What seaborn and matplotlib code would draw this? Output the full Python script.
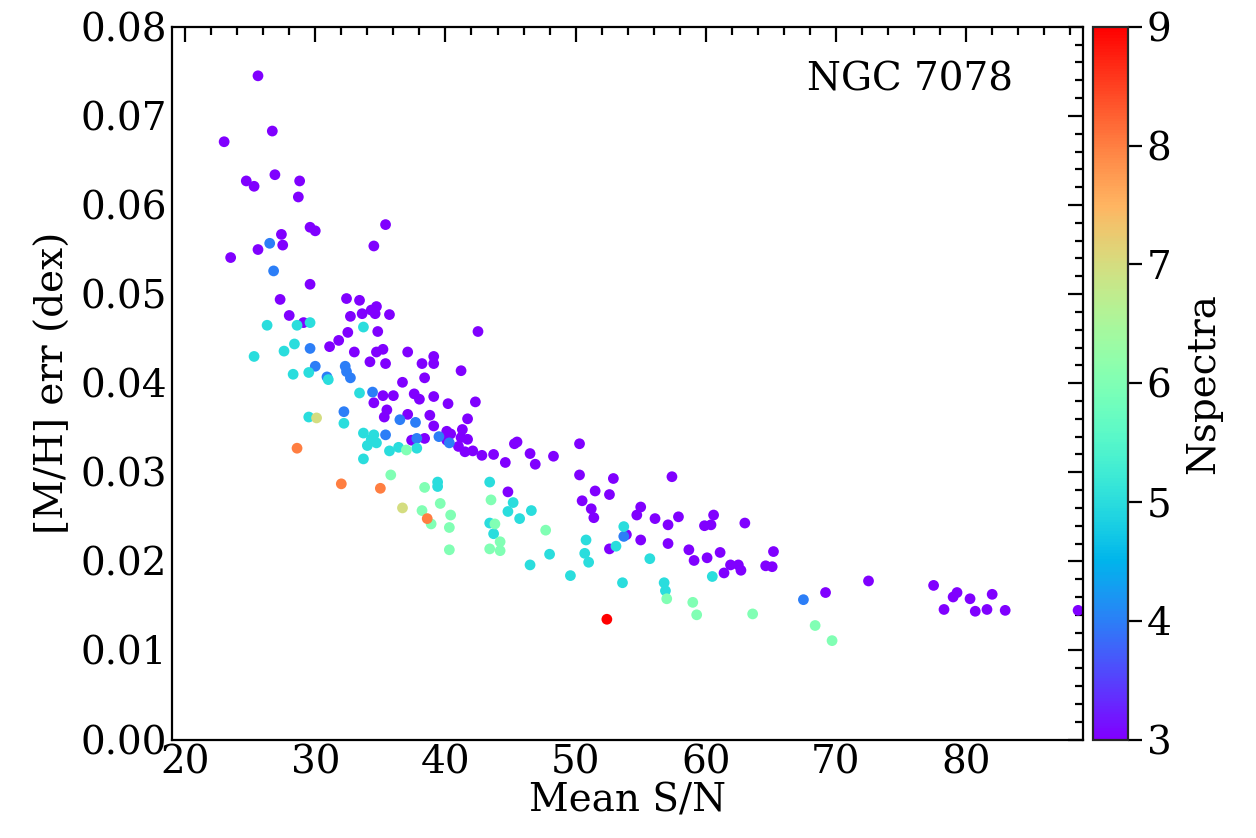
import numpy as np
import pandas as pd
import matplotlib
matplotlib.use("Agg")
import matplotlib.pyplot as plt
import seaborn as sns
from matplotlib.ticker import MultipleLocator

# ---- data: (Mean S/N, [M/H] err) grouped by number of spectra ----
sn_n3 = [23.0, 25.6, 23.5, 24.7, 25.3, 26.7, 26.9, 25.6, 28.8, 28.7, 27.4, 27.5, 29.6, 30.0,
         35.4, 34.5, 27.3, 29.6, 28.0, 29.1, 32.4, 33.4, 34.3, 34.7, 33.6, 34.6, 35.7, 32.7,
         34.8, 32.5, 31.8, 31.1, 33.0, 34.7, 35.2, 34.2, 35.4, 34.5,
         42.5, 37.1, 39.1, 38.2, 39.1, 41.2, 38.4, 36.7, 36.0, 35.2, 37.6, 38.0, 39.1, 40.2,
         42.3, 35.5, 35.3, 37.1, 38.8, 41.7, 39.1, 37.4, 38.4, 40.1, 40.4, 41.3, 40.1, 41.2,
         41.7, 41.0, 41.5, 42.1, 42.8, 43.7, 44.6, 45.3, 45.5, 46.5, 46.9, 48.3, 50.3, 50.3,
         44.8, 52.9, 57.4, 51.5, 52.6, 50.5, 51.2, 51.4, 55.0, 54.7, 56.1, 57.9, 57.1, 53.9,
         55.0, 57.1, 52.6, 60.6, 59.9, 60.4, 63.0, 58.7, 59.1, 60.1, 61.1, 61.9, 62.5, 62.7,
         61.4, 64.6, 65.1, 65.2, 69.2, 72.5, 77.5, 78.3, 79.0, 79.3, 80.3, 80.7, 81.6, 82.0,
         83.0, 88.6]
err_n3 = [0.0671, 0.0745, 0.0541, 0.0627, 0.0621, 0.0683, 0.0634, 0.0550, 0.0627, 0.0609,
          0.0567, 0.0555, 0.0575, 0.0571, 0.0578, 0.0554, 0.0494, 0.0511, 0.0476, 0.0468,
          0.0495, 0.0493, 0.0482, 0.0486, 0.0478, 0.0478, 0.0477, 0.0475, 0.0458, 0.0457,
          0.0448, 0.0441, 0.0435, 0.0435, 0.0438, 0.0424, 0.0422, 0.0378,
          0.0458, 0.0435, 0.0430, 0.0422, 0.0422, 0.0414, 0.0406, 0.0401, 0.0386, 0.0386,
          0.0388, 0.0382, 0.0385, 0.0377, 0.0379, 0.0370, 0.0362, 0.0365, 0.0364, 0.0360,
          0.0352, 0.0336, 0.0338, 0.0346, 0.0343, 0.0348, 0.0336, 0.0339, 0.0337, 0.0329,
          0.0323, 0.0324, 0.0319, 0.0320, 0.0311, 0.0332, 0.0334, 0.0321, 0.0309, 0.0318,
          0.0332, 0.0297, 0.0278, 0.0293, 0.0295, 0.0279, 0.0275, 0.0268, 0.0259, 0.0249,
          0.0261, 0.0252, 0.0248, 0.0250, 0.0241, 0.0230, 0.0224, 0.0220, 0.0214, 0.0252,
          0.0240, 0.0241, 0.0243, 0.0213, 0.0201, 0.0204, 0.0210, 0.0196, 0.0196, 0.0190,
          0.0187, 0.0195, 0.0194, 0.0211, 0.0165, 0.0178, 0.0173, 0.0146, 0.0160, 0.0165,
          0.0158, 0.0144, 0.0146, 0.0163, 0.0145, 0.0145]

sn_n4 = [26.5, 26.8, 29.6, 30.0, 30.9, 32.3, 32.4, 32.7, 34.4, 32.2, 36.5, 37.7, 35.4, 37.8,
         39.5, 40.3, 53.7, 67.5]
err_n4 = [0.0557, 0.0526, 0.0439, 0.0419, 0.0407, 0.0419, 0.0413, 0.0406, 0.0390, 0.0368,
          0.0359, 0.0356, 0.0342, 0.0338, 0.0340, 0.0333, 0.0228, 0.0157]

sn_n5 = [26.3, 28.6, 29.6, 28.4, 27.6, 25.3, 28.3, 29.5, 31.0, 33.4, 33.7, 29.5, 32.2, 33.7,
         34.5, 34.3, 34.0, 34.7, 35.7, 36.4, 37.8, 33.7, 39.4, 39.4, 43.4, 45.2, 44.8, 46.6,
         45.7, 43.4, 43.7, 53.7, 50.8, 50.7, 51.0, 48.0, 46.5, 49.6, 53.1, 55.7, 53.6, 56.8,
         56.9, 60.5]
err_n5 = [0.0465, 0.0465, 0.0468, 0.0444, 0.0436, 0.0430, 0.0410, 0.0412, 0.0404, 0.0389,
          0.0463, 0.0362, 0.0355, 0.0344, 0.0342, 0.0337, 0.0330, 0.0333, 0.0324, 0.0328,
          0.0327, 0.0315, 0.0289, 0.0284, 0.0289, 0.0266, 0.0256, 0.0257, 0.0248, 0.0243,
          0.0231, 0.0239, 0.0224, 0.0209, 0.0199, 0.0208, 0.0196, 0.0184, 0.0217, 0.0203,
          0.0176, 0.0176, 0.0167, 0.0183]

sn_n6 = [37.0, 35.8, 38.4, 39.6, 38.2, 40.4, 38.9, 40.3, 40.3, 43.5, 43.4, 43.8, 44.2, 44.2,
         47.7, 57.0, 59.0, 59.3, 63.6, 68.4, 69.7]
err_n6 = [0.0325, 0.0297, 0.0283, 0.0265, 0.0257, 0.0252, 0.0242, 0.0238, 0.0213, 0.0269,
          0.0214, 0.0242, 0.0222, 0.0212, 0.0235, 0.0158, 0.0154, 0.0140, 0.0141, 0.0128,
          0.0111]

sn_n7 = [30.1, 36.7]
err_n7 = [0.0361, 0.0260]

sn_n8 = [28.6, 32.0, 35.0, 38.6]
err_n8 = [0.0327, 0.0287, 0.0282, 0.0248]

sn_n9 = [52.4]
err_n9 = [0.0135]

groups = [(3, sn_n3, err_n3), (4, sn_n4, err_n4), (5, sn_n5, err_n5), (6, sn_n6, err_n6),
          (7, sn_n7, err_n7), (8, sn_n8, err_n8), (9, sn_n9, err_n9)]
df = pd.concat([pd.DataFrame({"sn": s, "err": e, "nspec": n}) for n, s, e in groups],
               ignore_index=True)

# ---- plot ----
sns.set_style("white")
plt.rcParams["font.family"] = ["DejaVu Serif"]
plt.rcParams["mathtext.fontset"] = "dejavuserif"
plt.rcParams["text.color"] = "black"
plt.rcParams["axes.labelcolor"] = "black"
plt.rcParams["xtick.color"] = "black"
plt.rcParams["ytick.color"] = "black"

FS = 28

fig = plt.figure(figsize=(12.56, 8.38), dpi=100)
ax = fig.add_axes([0.137, 0.1175, 0.7255, 0.8505])
cax = fig.add_axes([0.870, 0.1175, 0.028, 0.8505])

cmap = plt.get_cmap("rainbow")
norm = matplotlib.colors.Normalize(vmin=3, vmax=9)
sns.scatterplot(data=df, x="sn", y="err", hue="nspec", palette=cmap, hue_norm=norm,
                s=60, linewidth=0, legend=False, ax=ax)

ax.set_xlim(19, 89)
ax.set_ylim(0, 0.08)
ax.xaxis.set_major_locator(MultipleLocator(10))
ax.xaxis.set_minor_locator(MultipleLocator(2))
ax.yaxis.set_major_locator(MultipleLocator(0.01))
ax.yaxis.set_minor_locator(MultipleLocator(0.002))
ax.yaxis.set_major_formatter(matplotlib.ticker.FormatStrFormatter("%.2f"))
ax.tick_params(which="both", direction="in", top=True, right=True, labelsize=FS,
               width=1.6, colors="black", labelcolor="black")
ax.tick_params(which="major", length=11)
ax.tick_params(which="minor", length=6)
for sp in ax.spines.values():
    sp.set_linewidth(1.6)
    sp.set_color("black")
ax.set_xlabel("Mean S/N", fontsize=FS, labelpad=1, color="black")
ax.set_ylabel("[M/H] err (dex)", fontsize=FS, labelpad=6, color="black")
ax.text(0.923, 0.925, "NGC 7078", transform=ax.transAxes, ha="right", va="center",
        fontsize=FS, color="black")

sm = matplotlib.cm.ScalarMappable(norm=norm, cmap=cmap)
cb = fig.colorbar(sm, cax=cax)
cb.set_ticks([3, 4, 5, 6, 7, 8, 9])
cb.ax.tick_params(labelsize=FS, length=10, width=1.6, direction="out",
                  colors="black", labelcolor="black")
cb.outline.set_linewidth(1.6)
cb.set_label("Nspectra", fontsize=FS, labelpad=10, color="black")

fig.savefig("out.png", dpi=100)
